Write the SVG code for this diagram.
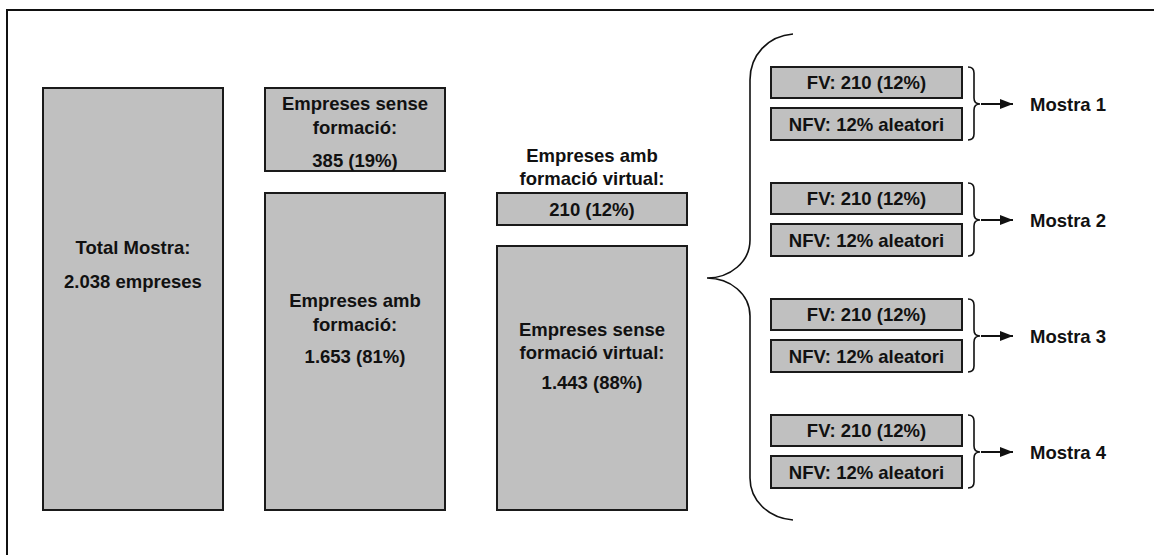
<svg xmlns="http://www.w3.org/2000/svg" width="1154" height="555" viewBox="0 0 1154 555">
<defs>
<style>
.box{fill:#c0c0c0;stroke:#1a1a1a;stroke-width:2}
.t{font-family:"Liberation Sans",Arial,sans-serif;font-weight:bold;font-size:18.5px;fill:#111;text-anchor:middle}
.tl{font-family:"Liberation Sans",Arial,sans-serif;font-weight:bold;font-size:18.5px;fill:#111}
.br{fill:none;stroke:#111;stroke-width:1.6}
.ar{fill:none;stroke:#111;stroke-width:2}
</style>
<marker id="ah" viewBox="0 0 10 10" refX="10" refY="5" markerWidth="13" markerHeight="10" markerUnits="userSpaceOnUse" orient="auto" preserveAspectRatio="none">
<path d="M0,0 L10,5 L0,10 z" fill="#111"/>
</marker>
</defs>
<rect width="1154" height="555" fill="#fff"/>
<rect x="7" y="10" width="1160" height="560" fill="none" stroke="#111" stroke-width="2"/>

<g id="total">
<rect class="box" x="43" y="88" width="180" height="422"/>
<text class="t" x="133" y="254">Total Mostra:</text>
<text class="t" x="133" y="288">2.038 empreses</text>
</g>
<g id="sense-formacio">
<rect class="box" x="265" y="88" width="180" height="83"/>
<text class="t" x="355" y="110">Empreses sense</text>
<text class="t" x="355" y="134">formació:</text>
<text class="t" x="355" y="167">385 (19%)</text>
</g>
<g id="amb-formacio">
<rect class="box" x="265" y="193" width="180" height="317"/>
<text class="t" x="355" y="307">Empreses amb</text>
<text class="t" x="355" y="331">formació:</text>
<text class="t" x="355" y="363">1.653 (81%)</text>
</g>
<g id="amb-virtual">
<text class="t" x="592" y="162">Empreses amb</text>
<text class="t" x="592" y="185">formació virtual:</text>
<rect class="box" x="497" y="193" width="190" height="32"/>
<text class="t" x="592" y="216">210 (12%)</text>
</g>
<g id="sense-virtual">
<rect class="box" x="497" y="246" width="190" height="264"/>
<text class="t" x="592" y="336">Empreses sense</text>
<text class="t" x="592" y="359">formació virtual:</text>
<text class="t" x="592" y="389">1.443 (88%)</text>
</g>

<g id="mostra1">
<rect class="box" x="771" y="67" width="191" height="31"/>
<text class="t" x="866.5" y="89">FV: 210 (12%)</text>
<rect class="box" x="771" y="108" width="191" height="32"/>
<text class="t" x="866.5" y="131">NFV: 12% aleatori</text>
<text class="tl" x="1030" y="111">Mostra 1</text>
</g>
<g id="mostra2">
<rect class="box" x="771" y="183" width="191" height="31"/>
<text class="t" x="866.5" y="205">FV: 210 (12%)</text>
<rect class="box" x="771" y="224" width="191" height="32"/>
<text class="t" x="866.5" y="247">NFV: 12% aleatori</text>
<text class="tl" x="1030" y="227">Mostra 2</text>
</g>
<g id="mostra3">
<rect class="box" x="771" y="299" width="191" height="31"/>
<text class="t" x="866.5" y="321">FV: 210 (12%)</text>
<rect class="box" x="771" y="340" width="191" height="32"/>
<text class="t" x="866.5" y="363">NFV: 12% aleatori</text>
<text class="tl" x="1030" y="343">Mostra 3</text>
</g>
<g id="mostra4">
<rect class="box" x="771" y="415" width="191" height="31"/>
<text class="t" x="866.5" y="437">FV: 210 (12%)</text>
<rect class="box" x="771" y="456" width="191" height="32"/>
<text class="t" x="866.5" y="479">NFV: 12% aleatori</text>
<text class="tl" x="1030" y="459">Mostra 4</text>
</g>

<g id="connectors">
<path class="br" d="M793,34 C768,36 750,55 750,80 L750,240 C750,262 730,278 707,278 C730,278 750,294 750,316 L750,478 C750,500 768,518 793,520"/>
<path class="br" d="M968,67 Q974,67 974,73 L974,98 Q974,104 980,104 Q974,104 974,110 L974,134 Q974,140 968,140"/>
<path class="br" d="M968,183 Q974,183 974,189 L974,214 Q974,220 980,220 Q974,220 974,226 L974,250 Q974,256 968,256"/>
<path class="br" d="M968,299 Q974,299 974,305 L974,330 Q974,336 980,336 Q974,336 974,342 L974,366 Q974,372 968,372"/>
<path class="br" d="M968,415 Q974,415 974,421 L974,446 Q974,452 980,452 Q974,452 974,458 L974,482 Q974,488 968,488"/>
<line class="ar" x1="981" y1="104" x2="1013" y2="104" marker-end="url(#ah)"/>
<line class="ar" x1="981" y1="220" x2="1013" y2="220" marker-end="url(#ah)"/>
<line class="ar" x1="981" y1="336" x2="1013" y2="336" marker-end="url(#ah)"/>
<line class="ar" x1="981" y1="452" x2="1013" y2="452" marker-end="url(#ah)"/>
</g>
</svg>
